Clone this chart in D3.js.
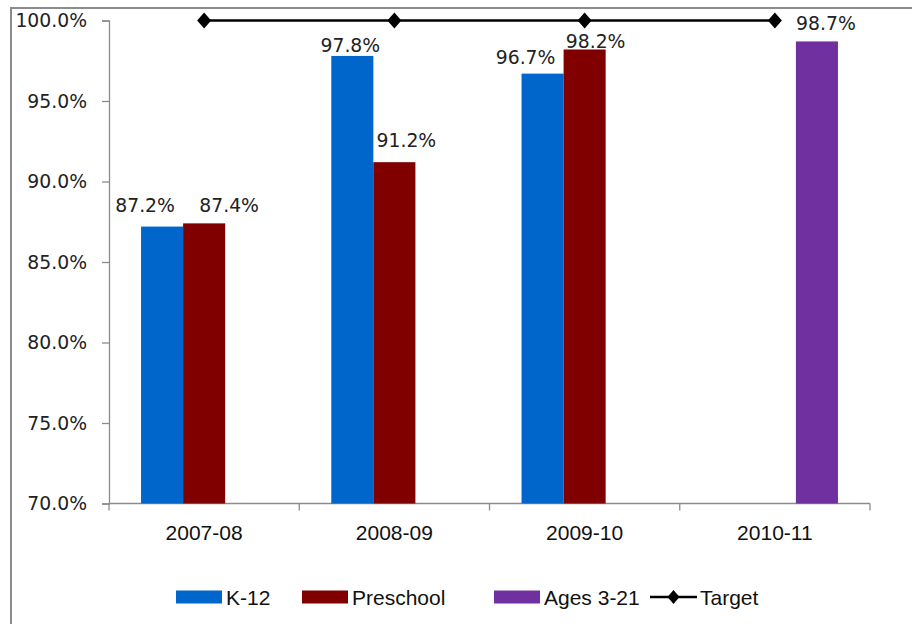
<!DOCTYPE html>
<html>
<head>
<meta charset="utf-8">
<script src="https://cdn.jsdelivr.net/npm/d3@7/dist/d3.min.js"></script>
<style>
  html, body { margin: 0; padding: 0; background: #fff; }
  svg { display: block; }
</style>
</head>
<body>
<svg id="chart" width="912" height="624"></svg>
<script>
// ---- Data ----
const categories = ["2007-08", "2008-09", "2009-10", "2010-11"];
const seriesNames = ["K-12", "Preschool", "Ages 3-21"];
const k12Values = [87.2, 97.8, 96.7, null];
const preschoolValues = [87.4, 91.2, 98.2, null];
const agesValues = [null, null, null, 98.7];
const targetValues = [100, 100, 100, 100];
const yTickValues = [70, 75, 80, 85, 90, 95, 100];

// label nudges (px) relative to bar centre / bar top, as placed in the original
const labelNudges = {
  "K-12": [[-17, -21], [-2, -10], [-17, -16], null],
  "Preschool": [[25, -18], [12, -22], [11, -8], null],
  "Ages 3-21": [null, null, null, [9, -18]]
};

const colors = { "K-12": "#0066CC", "Preschool": "#800000", "Ages 3-21": "#7030A0" };
const seriesValues = { "K-12": k12Values, "Preschool": preschoolValues, "Ages 3-21": agesValues };

const svg = d3.select("#chart");

// outer frame
svg.append("path")
  .attr("d", "M11,630 L11,8 L920,8")
  .attr("fill", "none").attr("stroke", "#8c8c8c").attr("stroke-width", 2);

const plotLeft = 109, plotRight = 870, plotTop = 20.5, plotBottom = 503.5;

const y = d3.scaleLinear().domain([70, 100]).range([plotBottom, plotTop]);
const x0 = d3.scaleBand().domain(categories).range([plotLeft, plotRight]).paddingInner(0).paddingOuter(0);
const x1 = d3.scaleBand().domain(seriesNames).range([0, x0.bandwidth()]).paddingInner(0).paddingOuter(0.762);

// y axis
const yAxis = d3.axisLeft(y).tickValues(yTickValues).tickSize(7).tickPadding(15)
  .tickFormat(d => d3.format(".1f")(d) + "%");
const yg = svg.append("g").attr("transform", `translate(${plotLeft},0)`).call(yAxis);
yg.select(".domain").attr("stroke", "#8c8c8c").attr("stroke-width", 1.3);
yg.selectAll(".tick line").attr("stroke", "#8c8c8c").attr("stroke-width", 1.3);
yg.selectAll(".tick text").attr("font-family", "DejaVu Sans").attr("font-size", "18.8px").attr("fill", "#222");

// x axis
const xg = svg.append("g").attr("transform", `translate(0,${plotBottom})`);
xg.append("line").attr("x1", plotLeft).attr("x2", plotRight).attr("y1", 0).attr("y2", 0)
  .attr("stroke", "#8c8c8c").attr("stroke-width", 1.3);
const boundaries = categories.map(c => x0(c)).concat([x0(categories[categories.length - 1]) + x0.bandwidth()]);
xg.selectAll("line.xt").data(boundaries).enter().append("line")
  .attr("class", "xt")
  .attr("x1", d => d).attr("x2", d => d).attr("y1", 0).attr("y2", 7)
  .attr("stroke", "#8c8c8c").attr("stroke-width", 1.3);
xg.selectAll("text").data(categories).enter().append("text")
  .attr("x", d => x0(d) + x0.bandwidth() / 2)
  .attr("y", 29)
  .attr("dominant-baseline", "central")
  .attr("text-anchor", "middle")
  .attr("font-family", "Liberation Sans")
  .attr("font-size", "21px")
  .attr("fill", "#111")
  .text(d => d);

// bars
const flat = [];
seriesNames.forEach(s => {
  seriesValues[s].forEach((v, i) => {
    if (v !== null) flat.push({ series: s, cat: categories[i], value: v, idx: i });
  });
});

svg.append("g").selectAll("rect").data(flat).enter().append("rect")
  .attr("x", d => x0(d.cat) + x1(d.series))
  .attr("y", d => y(d.value))
  .attr("width", x1.bandwidth())
  .attr("height", d => y(70) - y(d.value))
  .attr("fill", d => colors[d.series]);

// data labels
svg.append("g").selectAll("text").data(flat).enter().append("text")
  .attr("x", d => x0(d.cat) + x1(d.series) + x1.bandwidth() / 2 + labelNudges[d.series][d.idx][0])
  .attr("y", d => y(d.value) + labelNudges[d.series][d.idx][1])
  .attr("dominant-baseline", "central")
  .attr("text-anchor", "middle")
  .attr("font-family", "DejaVu Sans")
  .attr("font-size", "18.8px")
  .attr("fill", "#222")
  .text(d => d3.format(".1f")(d.value) + "%");

// target line
const targetPts = categories.map((c, i) => [x0(c) + x0.bandwidth() / 2, y(targetValues[i])]);
svg.append("path")
  .attr("d", d3.line()(targetPts))
  .attr("fill", "none").attr("stroke", "#000").attr("stroke-width", 2.5);
const diamond = "M0,-8 L7,0 L0,8 L-7,0 Z";
svg.append("g").selectAll("path").data(targetPts).enter().append("path")
  .attr("d", diamond)
  .attr("transform", d => `translate(${d[0]},${d[1]})`)
  .attr("fill", "#000");

// legend
const legendY = 597;
const legendItems = [
  { name: "K-12", type: "rect", x: 176 },
  { name: "Preschool", type: "rect", x: 302 },
  { name: "Ages 3-21", type: "rect", x: 494 },
  { name: "Target", type: "line", x: 650 }
];
const lg = svg.append("g");
legendItems.forEach(it => {
  if (it.type === "rect") {
    lg.append("rect").attr("x", it.x).attr("y", legendY - 6.5).attr("width", 46).attr("height", 13)
      .attr("fill", colors[it.name]);
  } else {
    lg.append("line").attr("x1", it.x).attr("x2", it.x + 47).attr("y1", legendY).attr("y2", legendY)
      .attr("stroke", "#000").attr("stroke-width", 2.5);
    lg.append("path").attr("d", "M0,-7 L6,0 L0,7 L-6,0 Z")
      .attr("transform", `translate(${it.x + 23.5},${legendY})`).attr("fill", "#000");
  }
  lg.append("text")
    .attr("x", it.x + 50).attr("y", legendY)
    .attr("dominant-baseline", "central")
    .attr("font-family", "Liberation Sans")
    .attr("font-size", "21px")
    .attr("fill", "#111")
    .text(it.name);
});
</script>
</body>
</html>
